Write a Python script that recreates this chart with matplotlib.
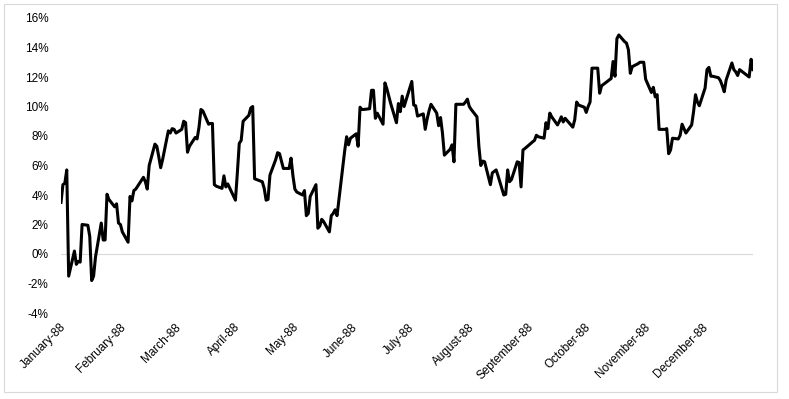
import pandas as pd
import matplotlib
matplotlib.use("Agg")
import matplotlib.pyplot as plt
import matplotlib.dates as mdates
import matplotlib.transforms as mtransforms
from matplotlib.patches import Rectangle
from matplotlib.ticker import FuncFormatter, MultipleLocator

plt.rcParams['font.family'] = ['Liberation Sans', 'DejaVu Sans']

# NYSE holidays 1988 (weekdays with no trading)
holidays = ["1988-01-01", "1988-02-15", "1988-04-01", "1988-05-30",
            "1988-07-04", "1988-09-05", "1988-11-24", "1988-12-26"]

# daily values in %
jan = [3.5, 4.7, 4.8, 5.7, -1.5, 0.2, -0.7, -0.5, -0.55, 2.0,
       1.95, 1.2, -1.8, -1.5, -0.2, 2.1, 0.95, 0.95, 4.05, 3.7]
feb = [3.2, 3.4, 2.1, 2.0, 1.5, 0.8, 3.9, 3.6, 4.3, 4.4,
       5.2, 4.9, 4.4, 6.0, 7.45, 7.3, 6.6, 5.85, 6.4, 8.35]
mar = [8.2, 8.5, 8.45, 8.2, 8.45, 9.0, 8.9, 6.9, 7.3, 7.9, 7.8, 8.6,
       9.8, 9.7, 8.8, 8.85, 8.85, 4.7, 4.6, 4.45, 5.3, 4.55, 4.75]
apr = [3.65, 5.5, 7.5, 7.7, 9.0, 9.4, 9.9, 10.0, 5.1, 5.05,
       4.9, 4.45, 3.65, 3.7, 5.35, 6.4, 6.87, 6.8, 6.3, 5.8]
may = [5.8, 6.5, 5.3, 4.4, 4.2, 4.0, 4.3, 2.6, 2.75, 3.9, 4.7,
       1.75, 1.9, 2.35, 2.2, 1.5, 2.6, 2.75, 3.0, 2.6, 7.0]
jun = [7.95, 7.4, 7.85, 8.15, 7.3, 9.95, 9.8, 9.8, 9.85, 11.1, 11.1,
       9.2, 9.55, 8.8, 11.6, 11.2, 10.7, 10.2, 8.9, 10.2, 9.65, 10.7]
jul = [10.0, 11.7, 10.1, 10.05, 9.35, 9.5, 8.45, 9.15, 9.7, 10.15,
       9.55, 8.7, 9.25, 8.2, 6.7, 7.1, 7.4, 6.25, 10.15, 10.15]
aug = [10.15, 10.3, 10.5, 10.0, 9.8, 9.3, 7.3, 6.0, 6.3, 6.25, 4.7, 5.5,
       5.6, 5.7, 5.3, 4.0, 4.05, 5.7, 4.9, 5.05, 6.25, 6.2, 4.55]
sep = [7.05, 7.15, 7.6, 7.7, 8.05, 7.95, 7.85, 8.9, 8.5, 9.55, 9.3,
       8.75, 9.0, 9.3, 8.95, 9.2, 8.75, 8.6, 9.1, 10.3, 10.1]
oct_ = [9.95, 9.6, 10.0, 10.3, 12.6, 12.6, 10.9, 11.4, 11.5, 11.6, 11.9,
        13.05, 12.05, 14.6, 14.85, 14.4, 14.3, 13.85, 12.25, 12.7, 12.9]
nov = [13.0, 13.0, 13.0, 11.85, 10.95, 11.3, 10.65, 10.8, 8.45, 8.45, 8.5,
       6.8, 7.05, 7.85, 7.8, 8.05, 8.8, 8.2, 8.75, 9.65, 10.8]
dec = [10.3, 10.05, 11.25, 12.5, 12.65, 12.05, 12.05, 11.95, 11.75, 11.4, 11.0,
       11.8, 12.95, 12.5, 12.35, 12.1, 12.5, 12.1, 12.0, 13.2, 12.5]

values = jan + feb + mar + apr + may + jun + jul + aug + sep + oct_ + nov + dec

days = pd.bdate_range("1988-01-04", "1988-12-30")
days = days[~days.isin(pd.to_datetime(holidays))]

W, H = 789, 399
fig = plt.figure(figsize=(W / 100, H / 100), dpi=100)
ax = fig.add_axes([61 / W, 1 - 313 / H, (753 - 61) / W, (313 - 18) / H])

ax.axhline(0, color='#d9d9d9', lw=0.8, zorder=0)
ax.plot(days, values, color='black', lw=2.2, solid_joinstyle='round')

ax.set_xlim(days[0], days[-1])
ax.set_ylim(-4, 16)
ax.yaxis.set_major_locator(MultipleLocator(2))
ax.yaxis.set_major_formatter(FuncFormatter(lambda v, p: f"{v:.0f}%"))
ax.xaxis.set_major_locator(mdates.MonthLocator(bymonthday=4))
ax.xaxis.set_major_formatter(mdates.DateFormatter("%B-%y"))

for s in ax.spines.values():
    s.set_visible(False)
ax.tick_params(length=0, labelsize=8.5, colors='black')
ax.tick_params(axis='y', pad=9)
ax.tick_params(axis='x', pad=9)

# month labels sit a little right of their tick, as in the original
shift = mtransforms.ScaledTranslation(3 / 100, 0, fig.dpi_scale_trans)
for lab in ax.get_xticklabels():
    lab.set_rotation(45)
    lab.set_ha('right')
    lab.set_va('center')
    lab.set_rotation_mode('anchor')
    lab.set_transform(lab.get_transform() + shift)

# light frame round the chart
fig.patches.append(Rectangle((3.5 / W, 1 - 391.5 / H), 773.5 / W, 388 / H,
                             transform=fig.transFigure, fill=False,
                             edgecolor='#d9d9d9', lw=0.8))

fig.savefig("out.png", dpi=100)
